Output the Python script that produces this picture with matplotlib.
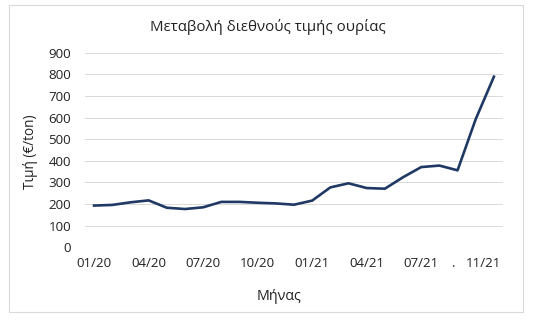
import matplotlib
matplotlib.use("Agg")
import matplotlib.pyplot as plt
from matplotlib.patches import Rectangle

plt.rcParams["font.family"] = ["Open Sans", "DejaVu Sans"]

# monthly urea price, 01/2020 .. 11/2021
months = ["01/20", "02/20", "03/20", "04/20", "05/20", "06/20", "07/20", "08/20",
          "09/20", "10/20", "11/20", "12/20", "01/21", "02/21", "03/21", "04/21",
          "05/21", "06/21", "07/21", "08/21", "09/21", "10/21", "11/21"]
price = [193, 196, 208, 217, 183, 177, 185, 210, 210, 206, 203, 197,
         216, 277, 296, 274, 271, 324, 371, 378, 356, 593, 789]

tick_pos = [0, 3, 6, 9, 12, 15, 18, 19.8, 21.45]
tick_labels = ["01/20", "04/20", "07/20", "10/20", "01/21", "04/21", "07/21", ".", "11/21"]

W, H = 534, 322
fig = plt.figure(figsize=(W / 100, H / 100), dpi=100)
ax = fig.add_axes([85 / W, 1 - 247.3 / H, 418 / W, 194.6 / H])

# chart area border
fig.patches.append(Rectangle((9 / W, 1 - 312 / H), 514 / W, 307 / H,
                             transform=fig.transFigure, fill=False,
                             edgecolor="#d9d9d9", linewidth=0.8))

x = list(range(len(months)))
ax.plot(x, price, color="#1f3864", linewidth=1.9, solid_joinstyle="round")

ax.set_xlim(-0.5, len(months) - 0.5)
ax.set_ylim(0, 900)
ax.set_yticks(range(0, 901, 100))
ax.set_xticks(tick_pos)
ax.set_xticklabels(tick_labels)
ax.tick_params(length=0, labelsize=9.6, colors="#222222")
ax.tick_params(axis="x", pad=7)
ax.tick_params(axis="y", pad=10)
ax.grid(axis="y", color="#d9d9d9", linewidth=0.7)
ax.set_axisbelow(True)
for s in ax.spines.values():
    s.set_visible(False)

fig.text(268 / W, 1 - 27 / H, "Μεταβολή διεθνούς τιμής ουρίας",
         ha="center", va="center", fontsize=10.8, color="#222222")
fig.text(30 / W, 1 - 152 / H, "Τιμή (€/ton)", rotation=90,
         ha="center", va="center", fontsize=9.8, color="#222222")
fig.text(278.5 / W, 1 - 297 / H, "Μήνας",
         ha="center", va="center", fontsize=10.3, color="#222222")

fig.savefig("out.png", dpi=100)
